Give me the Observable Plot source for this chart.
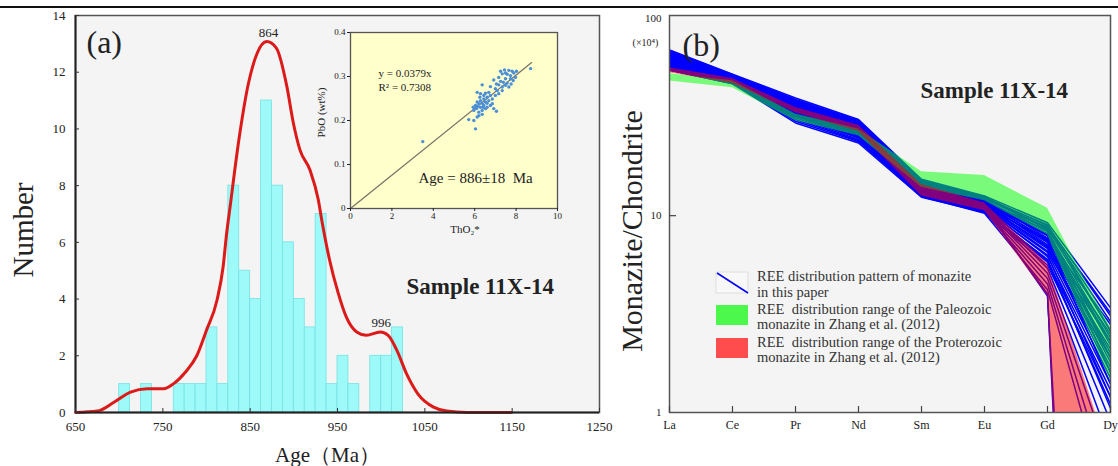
<!DOCTYPE html>
<html><head><meta charset="utf-8">
<script src="https://cdn.jsdelivr.net/npm/d3@7"></script>
<script src="https://cdn.jsdelivr.net/npm/@observablehq/plot@0.6"></script>
<style>
body{margin:0;background:#fff;}
#wrap{position:relative;width:1118px;height:466px;overflow:hidden;font-family:"Liberation Serif",serif;}
#wrap svg{position:absolute;}
.topline{position:absolute;left:0;top:6px;width:1118px;height:2px;background:#111;}
</style></head><body>
<div id="wrap"><div class="topline"></div></div>
<script>
// ---------- Panel (a): histogram of ages ----------
const binStart = [700,725,762.5,775,787.5,800,812.5,825,837.5,850,862.5,875,887.5,900,912.5,925,937.5,950,962.5,987.5,1000,1012.5];
const binCount = [1,1,1,1,1,3,1,8,5,4,11,8,6,4,3,7,1,2,1,2,2,3];
const binWidth = 12.5;
const curveAge = [650,675,694,713,732,751,762,776,789,800,812,819,823,827,837,848,858,869,880,892,899.5,907,918.5,928,932,941,951,960,972,983,999,1008,1018,1029,1042,1060,1075,1098,1149];
const curveNum = [0,0.05,0.36,0.72,0.84,0.84,1.01,1.43,2.01,2.9,3.96,5.13,6.3,7.25,9.6,11.6,12.67,13.08,12.85,11.5,10.2,9.26,8.55,7.5,6.78,5.37,4.19,3.37,2.84,2.72,2.84,2.72,2.19,1.37,0.66,0.19,0.05,0,0];
const peakText = ["864","996"];
const peakAge = [871,1000];
const peakNum = [13.08,2.84];
const xTicksA = [650,750,850,950,1050,1150,1250];
const yTicksA = [0,2,4,6,8,10,12,14];

// ---------- Inset: PbO vs ThO2* ----------
const thoVals = [7.25,7.44,7.65,7.81,7.33,7.57,7.73,7.89,7.16,7.49,7.73,7.86,7.38,7.57,7.76,7.49,7.33,7.65,6.92,7.05,7.16,6.76,7.00,6.36,6.12,6.28,6.52,6.68,6.76,6.60,6.44,6.28,6.12,6.04,6.20,6.36,6.52,6.68,6.85,7.00,7.16,7.33,6.44,6.28,6.09,5.96,6.20,6.36,6.52,6.60,6.85,7.05,6.36,6.12,5.71,5.96,6.04,8.70,8.02,7.97,7.49,7.25,7.09,6.44,6.25,6.60,5.93,6.15,6.41,6.76,6.92,6.20,3.49];
const pboVals = [0.312,0.315,0.314,0.312,0.306,0.305,0.302,0.308,0.298,0.295,0.295,0.291,0.287,0.285,0.283,0.280,0.276,0.276,0.292,0.283,0.281,0.277,0.272,0.281,0.264,0.261,0.262,0.264,0.257,0.253,0.249,0.245,0.242,0.234,0.238,0.239,0.242,0.245,0.249,0.257,0.261,0.268,0.234,0.230,0.227,0.223,0.219,0.223,0.227,0.230,0.238,0.221,0.214,0.208,0.202,0.200,0.181,0.318,0.312,0.298,0.308,0.289,0.268,0.257,0.253,0.239,0.230,0.232,0.230,0.234,0.227,0.211,0.152];
const fitSlope = 0.0379;
const fitRange = [0, 8.75];
const insetXTicks = [0,2,4,6,8,10];
const insetYTicks = [0,0.1,0.2,0.3,0.4];

// ---------- Panel (b): REE patterns ----------
const elements = ["La","Ce","Pr","Nd","Sm","Eu","Gd","Dy"];
const blueLines = [
  [69.5,52.4,39.6,30.8,15.3,12.6,9.2,3.4],
  [67.8,51.9,38.7,30.2,15.1,12.4,8.9,3.1],
  [66.2,52.1,38.1,29.9,14.9,12.3,8.7,2.9],
  [65.0,51.2,37.6,29.4,14.7,12.2,8.6,2.6],
  [63.7,50.8,37.9,29.0,14.8,12.0,8.3,2.4],
  [62.5,50.4,36.8,28.6,14.5,11.9,8.1,2.2],
  [61.4,49.6,36.2,28.3,14.3,11.8,7.9,2.0],
  [60.2,49.9,35.5,27.7,14.1,11.6,7.6,1.9],
  [59.1,48.7,34.9,27.2,13.9,11.5,7.3,1.8],
  [58.3,48.2,34.3,26.8,13.7,11.3,7.0,1.7],
  [57.4,47.8,33.6,26.1,13.5,11.2,6.8,1.6],
  [56.2,47.3,32.8,25.5,13.3,11.0,6.5,1.5],
  [55.4,47.0,31.9,24.8,13.1,10.9,6.2,1.4],
  [54.8,46.9,30.8,24.1,12.8,10.7,5.9,1.3],
  [55.0,46.8,29.6,23.4,12.4,10.4,5.6,1.2],
  [68.6,51.6,37.2,29.7,14.6,12.1,7.7,2.8],
  [66.9,50.9,36.4,28.9,14.4,12.0,7.4,2.5],
  [64.3,50.1,35.8,27.9,14.0,11.7,7.1,2.3],
  [61.9,49.3,34.7,27.0,13.8,11.4,6.9,2.1],
  [59.7,48.4,33.9,26.3,13.4,11.1,6.6,1.9],
  [57.9,47.6,33.1,25.9,13.2,10.8,6.3,1.2],
  [56.7,47.1,32.2,25.2,12.9,10.6,5.8,1.1],
  [63.1,49.8,35.1,27.4,13.6,11.1,5.4,0.9],
  [60.8,48.9,34.2,26.6,13.3,10.9,5.1,0.7],
  [58.8,48.0,33.4,25.8,13.0,10.7,4.8,0.55],
  [57.0,47.4,32.5,25.0,12.7,10.5,4.5,0.4],
  [55.9,47.2,31.4,24.4,12.5,10.3,4.2,0.3],
  [62.8,49.5,34.6,26.9,13.5,11.0,4.0,0.000001],
  [65.6,50.6,36.0,28.1,14.2,11.6,8.0,2.3],
  [67.2,51.3,38.4,29.2,14.6,12.2,9.0,2.6],
  [69.0,52.0,39.0,30.5,15.0,12.5,8.5,1.9],
  [60.5,48.6,35.3,27.1,13.6,11.2,7.5,1.4],
  [58.0,48.1,36.6,28.2,14.1,11.5,8.8,3.2],
  [54.9,46.9,30.2,23.8,12.6,10.5,6.0,1.05],
  [64.8,50.3,37.3,28.8,14.3,11.8,8.4,1.6],
  [62.2,49.0,35.7,27.6,13.9,11.3,3.9,0.00001]
];
const paleoLow  = [48.4,44.6,30.4,25.5,13.9,11.9,8.0,1.45];
const paleoHigh = [52.6,48.5,32.9,27.6,16.7,16.0,10.9,2.7];
const proteroLow  = [53.2,47.0,33.3,26.8,12.6,10.6,3.9,0.000001];
const proteroHigh = [56.5,49.8,35.5,28.8,14.4,11.6,5.7,0.58];
const yTicksB = [1,10,100];

// ---------- build tables ----------
const bars = binStart.map((s,i)=>({lo:s, hi:s+binWidth, n:binCount[i]}));
const curve = curveAge.map((a,i)=>({age:a, n:curveNum[i]}));
const peaks = peakText.map((t,i)=>({t, age:peakAge[i], n:peakNum[i]}));
const pts = thoVals.map((x,i)=>({x, y:pboVals[i]}));
const fit = fitRange.map(x=>({x, y:x*fitSlope}));
const blueRows = blueLines.flatMap((row,id)=>row.map((v,j)=>({id, el:elements[j], v})));
const paleoRows = elements.map((el,j)=>({el, lo:paleoLow[j], hi:paleoHigh[j]}));
const proteroRows = elements.map((el,j)=>({el, lo:proteroLow[j], hi:proteroHigh[j]}));

const FONT = "Liberation Serif, Times New Roman, serif";
const baseStyle = {background:"transparent", fontFamily:FONT, overflow:"visible", color:"#222"};
const wrap = document.getElementById("wrap");

// Panel (a)
const svgA = Plot.plot({
  width:610, height:466, marginLeft:75, marginRight:11, marginTop:15, marginBottom:54,
  style: baseStyle,
  x:{domain:[650,1250]},
  y:{domain:[0,14]},
  marks:[
    Plot.frame({fill:"#f4f4f4"}),
    Plot.rect(bars, {x1:"lo", x2:"hi", y1:0, y2:"n", fill:"#9ef9f9", stroke:"#74e2e2", strokeWidth:0.8}),
    Plot.line(curve, {x:"age", y:"n", curve:"monotone-x", stroke:"#dd1a1a", strokeWidth:3}),
    Plot.frame({stroke:"#555", strokeWidth:1.5}),
    Plot.ruleY([0], {stroke:"#222", strokeWidth:2}),
    Plot.ruleX([650], {stroke:"#222", strokeWidth:2}),
    Plot.tickX(xTicksA, {insetTop:393, stroke:"#333"}),
    Plot.tickY(yTicksA, {insetRight:520, stroke:"#333"}),
    Plot.axisX({ticks:xTicksA, tickSize:0, tickPadding:9, fontSize:13, label:null, tickFormat:d=>String(d)}),
    Plot.axisY({ticks:yTicksA, tickSize:0, tickPadding:10, fontSize:13, label:null, tickFormat:d=>String(d)}),
    Plot.text(peaks, {x:"age", y:"n", text:"t", dy:-5, lineAnchor:"bottom", fontSize:13}),
    Plot.text(["(a)"], {text:d=>d, frameAnchor:"top-left", dx:11, dy:37, lineAnchor:"bottom", textAnchor:"start", fontSize:32}),
    Plot.text(["Sample 11X-14"], {text:d=>d, frameAnchor:"top-left", dx:331, dy:278, lineAnchor:"bottom", textAnchor:"start", fontSize:23, fontWeight:"bold"}),
    Plot.text(["Number"], {text:d=>d, frameAnchor:"left", rotate:-90, textAnchor:"middle", dx:-52, dy:16, fontSize:29}),
    Plot.text(["Age（Ma）"], {text:d=>d, frameAnchor:"bottom", textAnchor:"middle", dx:-10, dy:43, lineAnchor:"middle", fontSize:21})
  ]
});
svgA.style.left = "0px"; svgA.style.top = "0px";
wrap.appendChild(svgA);

// Inset
const svgI = Plot.plot({
  width:270, height:215, marginLeft:50, marginRight:13, marginTop:12, marginBottom:27,
  style: baseStyle,
  x:{domain:[0,10]},
  y:{domain:[0,0.4]},
  marks:[
    Plot.frame({fill:"#ffffcc"}),
    Plot.line(fit, {x:"x", y:"y", stroke:"#7d7268", strokeWidth:1.3}),
    Plot.dot(pts, {x:"x", y:"y", r:1.7, fill:"#4a8fd8", stroke:null}),
    Plot.frame({stroke:"#555", strokeWidth:1.3}),
    Plot.axisX({ticks:insetXTicks, tickSize:3, tickPadding:1, fontSize:9, label:null, tickFormat:d=>String(d)}),
    Plot.axisY({ticks:insetYTicks, tickSize:3, tickPadding:2, fontSize:9, label:null, tickFormat:d=>d===0?"0":d.toFixed(1)}),
    Plot.text(["y = 0.0379x"], {text:d=>d, frameAnchor:"top-left", dx:28, dy:44, lineAnchor:"bottom", textAnchor:"start", fontSize:11}),
    Plot.text(["R² = 0.7308"], {text:d=>d, frameAnchor:"top-left", dx:28, dy:58, lineAnchor:"bottom", textAnchor:"start", fontSize:11}),
    Plot.text(["Age = 886±18  Ma"], {text:d=>d, frameAnchor:"top-left", dx:68, dy:150, lineAnchor:"bottom", textAnchor:"start", fontSize:15}),
    Plot.text(["ThO₂*"], {text:d=>d, frameAnchor:"bottom", textAnchor:"middle", dx:11, dy:21, lineAnchor:"middle", fontSize:11}),
    Plot.text(["PbO (wt%)"], {text:d=>d, frameAnchor:"left", rotate:-90, textAnchor:"middle", dx:-29, dy:-8, fontSize:11})
  ]
});
svgI.style.left = "300px"; svgI.style.top = "20px";
wrap.appendChild(svgI);

// Panel (b)
const svgB = Plot.plot({
  width:518, height:466, marginLeft:69, marginRight:8, marginTop:15, marginBottom:54,
  style: baseStyle,
  x:{type:"point", domain:elements, padding:0},
  y:{type:"log", domain:[1,104]},
  marks:[
    Plot.frame({fill:"#f4f4f4"}),
    Plot.line(blueRows, {x:"el", y:"v", z:"id", stroke:"#0000ff", strokeWidth:1.5, clip:true}),
    Plot.areaY(paleoRows, {x:"el", y1:"lo", y2:"hi", fill:"#00ff00", fillOpacity:0.5, clip:true}),
    Plot.areaY(proteroRows, {x:"el", y1:"lo", y2:"hi", fill:"#ff0000", fillOpacity:0.5, clip:true}),
    Plot.frame({stroke:"#555", strokeWidth:1.5}),
    Plot.tickX(elements, {insetTop:391, stroke:"#444", strokeWidth:1.2}),
    Plot.tickY([10], {insetRight:434, stroke:"#444", strokeWidth:1.2}),
    Plot.axisX({tickSize:0, tickPadding:8, fontSize:12, label:null}),
    Plot.axisY({ticks:yTicksB, tickSize:0, tickPadding:8, fontSize:11, label:null, tickFormat:d=>String(d)}),
    Plot.text(["(×10⁴)"], {text:d=>d, frameAnchor:"top-left", textAnchor:"middle", dx:-24, dy:27, lineAnchor:"middle", fontSize:10}),
    Plot.text(["(b)"], {text:d=>d, frameAnchor:"top-left", dx:13, dy:40, lineAnchor:"bottom", textAnchor:"start", fontSize:32}),
    Plot.text(["Sample 11X-14"], {text:d=>d, frameAnchor:"top-left", dx:251, dy:82, lineAnchor:"bottom", textAnchor:"start", fontSize:23, fontWeight:"bold"}),
    Plot.text(["Monazite/Chondrite"], {text:d=>d, frameAnchor:"left", rotate:-90, textAnchor:"middle", dx:-37, dy:17, fontSize:30})
  ]
});
svgB.style.left = "600px"; svgB.style.top = "0px";
wrap.appendChild(svgB);

// Legend for panel (b)
const lg = d3.select(svgB).append("g").attr("font-family", FONT).attr("font-size", 14.5).attr("fill", "#333").attr("text-anchor", "start");
lg.append("rect").attr("x",116).attr("y",272).attr("width",32).attr("height",21).attr("fill","#f8f8f8").attr("stroke","#ddd");
lg.append("line").attr("x1",117).attr("y1",273).attr("x2",148).attr("y2",293).attr("stroke","#0000ff").attr("stroke-width",1.5);
lg.append("rect").attr("x",116).attr("y",305).attr("width",32).attr("height",20).attr("fill","#4cf84c");
lg.append("rect").attr("x",116).attr("y",338).attr("width",32).attr("height",20).attr("fill","#ff4c4c");
const legendLines = [
  ["REE distribution pattern of monazite", 281],
  ["in this paper", 297],
  ["REE  distribution range of the Paleozoic", 314],
  ["monazite in Zhang et al. (2012)", 329],
  ["REE  distribution range of the Proterozoic", 347],
  ["monazite in Zhang et al. (2012)", 362]
];
legendLines.forEach(([t,y]) => lg.append("text").attr("x",157).attr("y",y).attr("text-anchor","start").style("white-space","pre").text(t));
</script>
</body></html>
